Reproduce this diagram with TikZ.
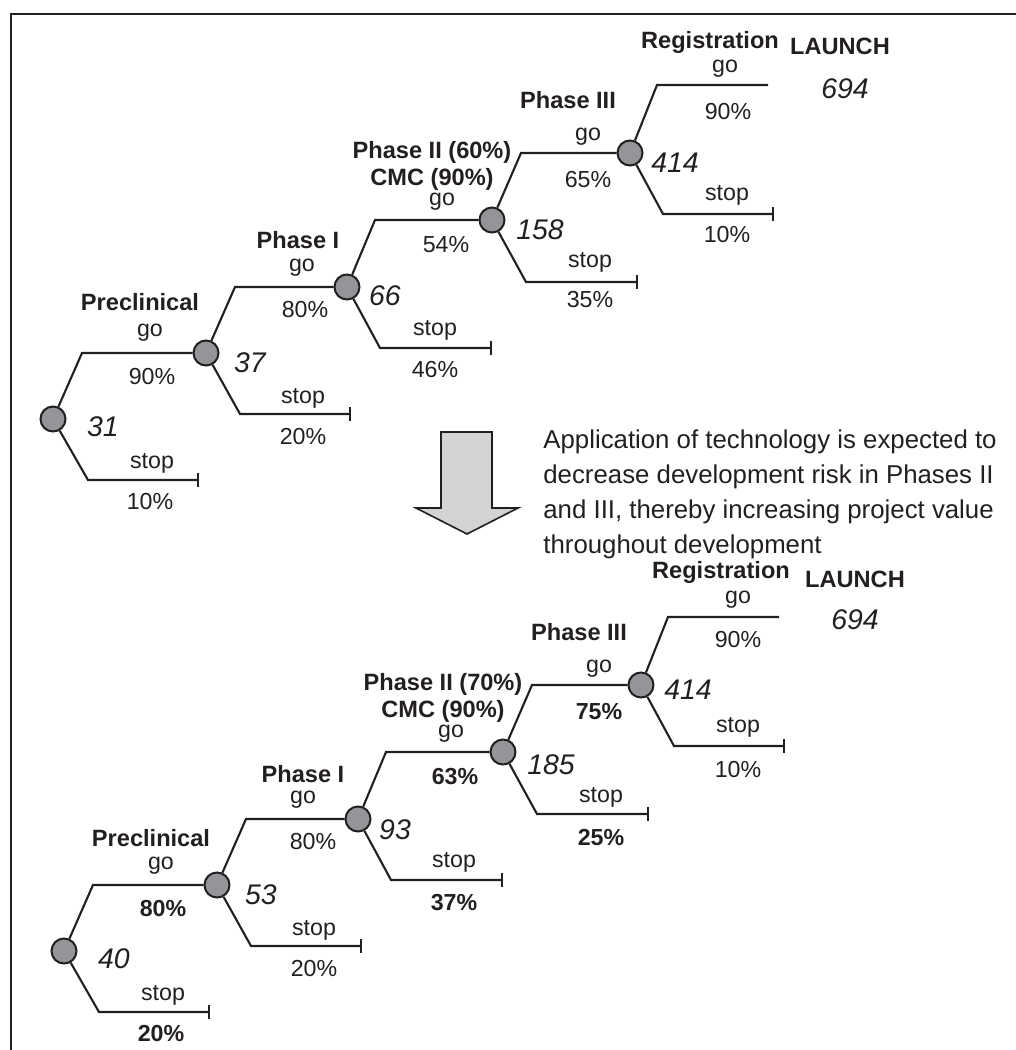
\documentclass[tikz,border=0pt]{standalone}
\usepackage{fontspec}
\setmainfont{Liberation Sans}
\usepackage{tikz}
\usetikzlibrary{arrows.meta}

\definecolor{ink}{RGB}{35,31,32}
\definecolor{dotgray}{RGB}{147,149,152}
\definecolor{arrowgray}{RGB}{209,211,212}

\begin{document}
\begin{tikzpicture}[x=0.5pt, y=-0.5pt,
	dec/.style={shape=circle, draw=ink, fill=dotgray, line width=1pt, minimum size=12.5pt, inner sep=0pt},
	branch/.style={draw=ink, line width=1.05pt},
	stopline/.style={branch, -{Bar[width=7pt]}},
	lab/.style={text=ink, inner sep=0pt, font=\fontsize{11.6}{13}\selectfont},
	blab/.style={text=ink, inner sep=0pt, font=\fontsize{11.6}{13}\selectfont\bfseries},
	phase/.style={text=ink, inner sep=0pt, align=center, font=\fontsize{11.8}{13.5}\selectfont\bfseries},
	val/.style={text=ink, inner sep=0pt, font=\fontsize{14.2}{16}\selectfont\itshape}]

	\useasboundingbox (0,0) rectangle (1016,1050);
	\draw[ink, line width=1.3pt] (11,1050) -- (11,14) -- (1016,14);

	% current project
	\node[dec] (p0) at (53,419)  {};
	\node[dec] (p1) at (206,353) {};
	\node[dec] (p2) at (347,287) {};
	\node[dec] (p3) at (492,220) {};
	\node[dec] (p4) at (630,153) {};

	\coordinate (p0g) at (82,353);   \coordinate (p0s) at (88,480);  \coordinate (p0e) at (199,480);
	\coordinate (p1g) at (235,287);  \coordinate (p1s) at (240,414); \coordinate (p1e) at (351,414);
	\coordinate (p2g) at (375,220);  \coordinate (p2s) at (380,348); \coordinate (p2e) at (492,348);
	\coordinate (p3g) at (521,153);  \coordinate (p3s) at (526,282); \coordinate (p3e) at (638,282);
	\coordinate (p4g) at (657,85);   \coordinate (p4s) at (663,214); \coordinate (p4e) at (774,214);
	\coordinate (p4l) at (768,85);

	\path[branch] (p0) -- (p0g) -- (p1);
	\path[branch] (p1) -- (p1g) -- (p2);
	\path[branch] (p2) -- (p2g) -- (p3);
	\path[branch] (p3) -- (p3g) -- (p4);
	\path[branch] (p4) -- (p4g) -- (p4l);
	\path[stopline] (p0) -- (p0s) -- (p0e);
	\path[stopline] (p1) -- (p1s) -- (p1e);
	\path[stopline] (p2) -- (p2s) -- (p2e);
	\path[stopline] (p3) -- (p3s) -- (p3e);
	\path[stopline] (p4) -- (p4s) -- (p4e);

	\node[phase] (ph0) at (140,302) {Preclinical};
	\node[lab]   (g0)  at (150,333) {go};
	\node[lab]   (gp0) at (152,377) {90\%};
	\node[lab]   (s0)  at (152,463) {stop};
	\node[lab]   (sp0) at (150,502) {10\%};
	\node[val]   (v0)  at (103,427) {31};

	\node[phase] (ph1) at (298,240) {Phase I};
	\node[lab]   (g1)  at (302,268) {go};
	\node[lab]   (gp1) at (305,310) {80\%};
	\node[lab]   (s1)  at (303,398) {stop};
	\node[lab]   (sp1) at (303,437) {20\%};
	\node[val]   (v1)  at (250,363) {37};

	\node[phase] (ph2) at (432,166) {Phase II (60\%)\\CMC (90\%)};
	\node[lab]   (g2)  at (442,202) {go};
	\node[lab]   (gp2) at (446,245) {54\%};
	\node[lab]   (s2)  at (435,330) {stop};
	\node[lab]   (sp2) at (435,370) {46\%};
	\node[val]   (v2)  at (385,296) {66};

	\node[phase] (ph3) at (568,100) {Phase III};
	\node[lab]   (g3)  at (588,137) {go};
	\node[lab]   (gp3) at (588,180) {65\%};
	\node[lab]   (s3)  at (590,262) {stop};
	\node[lab]   (sp3) at (590,300) {35\%};
	\node[val]   (v3)  at (540,230) {158};

	\node[phase] (ph4) at (710,42)  {Registration};
	\node[lab]   (g4)  at (725,69)  {go};
	\node[lab]   (gp4) at (728,112) {90\%};
	\node[lab]   (s4)  at (727,195) {stop};
	\node[lab]   (sp4) at (727,235) {10\%};
	\node[val]   (v4)  at (675,163) {414};

	\node[phase] (lau) at (840,46) {LAUNCH};
	\node[val]   (v5)  at (845,89) {694};

	% effect of the technology
	\draw[ink, fill=arrowgray, line width=0.8pt, line join=miter]
		(441,432) -- (492,432) -- (492,508) -- (518,508) -- (467,534)
		-- (416,508) -- (441,508) -- cycle;
	\node[text=ink, inner sep=0pt, anchor=north west, align=left,
		font=\fontsize{12.9}{17.5}\selectfont] (note) at (543,429)
		{Application of technology is expected to\\decrease development risk in Phases II\\and III, thereby increasing project value\\throughout development};

	% with the technology
	\begin{scope}[shift={(11,532)}]
	\node[dec] (q0) at (53,419)  {};
	\node[dec] (q1) at (206,353) {};
	\node[dec] (q2) at (347,287) {};
	\node[dec] (q3) at (492,220) {};
	\node[dec] (q4) at (630,153) {};

	\coordinate (q0g) at (82,353);   \coordinate (q0s) at (88,480);  \coordinate (q0e) at (199,480);
	\coordinate (q1g) at (235,287);  \coordinate (q1s) at (240,414); \coordinate (q1e) at (351,414);
	\coordinate (q2g) at (375,220);  \coordinate (q2s) at (380,348); \coordinate (q2e) at (492,348);
	\coordinate (q3g) at (521,153);  \coordinate (q3s) at (526,282); \coordinate (q3e) at (638,282);
	\coordinate (q4g) at (657,85);   \coordinate (q4s) at (663,214); \coordinate (q4e) at (774,214);
	\coordinate (q4l) at (768,85);

	\path[branch] (q0) -- (q0g) -- (q1);
	\path[branch] (q1) -- (q1g) -- (q2);
	\path[branch] (q2) -- (q2g) -- (q3);
	\path[branch] (q3) -- (q3g) -- (q4);
	\path[branch] (q4) -- (q4g) -- (q4l);
	\path[stopline] (q0) -- (q0s) -- (q0e);
	\path[stopline] (q1) -- (q1s) -- (q1e);
	\path[stopline] (q2) -- (q2s) -- (q2e);
	\path[stopline] (q3) -- (q3s) -- (q3e);
	\path[stopline] (q4) -- (q4s) -- (q4e);

	\node[phase] (qh0) at (140,306) {Preclinical};
	\node[lab]   (r0)  at (150,334) {go};
	\node[blab]  (rp0) at (152,377) {80\%};
	\node[lab]   (t0)  at (152,463) {stop};
	\node[blab]  (tp0) at (150,502) {20\%};
	\node[val]   (w0)  at (103,427) {40};

	\node[phase] (qh1) at (292,242) {Phase I};
	\node[lab]   (r1)  at (292,268) {go};
	\node[lab]   (rp1) at (302,310) {80\%};
	\node[lab]   (t1)  at (303,398) {stop};
	\node[lab]   (tp1) at (303,437) {20\%};
	\node[val]   (w1)  at (250,363) {53};

	\node[phase] (qh2) at (432,166) {Phase II (70\%)\\CMC (90\%)};
	\node[lab]   (r2)  at (440,202) {go};
	\node[blab]  (rp2) at (444,245) {63\%};
	\node[lab]   (t2)  at (443,330) {stop};
	\node[blab]  (tp2) at (443,371) {37\%};
	\node[val]   (w2)  at (384,298) {93};

	\node[phase] (qh3) at (568,100) {Phase III};
	\node[lab]   (r3)  at (588,137) {go};
	\node[blab]  (rp3) at (588,180) {75\%};
	\node[lab]   (t3)  at (590,265) {stop};
	\node[blab]  (tp3) at (590,306) {25\%};
	\node[val]   (w3)  at (540,233) {185};

	\node[phase] (qh4) at (710,40)  {Registration};
	\node[lab]   (r4)  at (727,68)  {go};
	\node[lab]   (rp4) at (727,108) {90\%};
	\node[lab]   (t4)  at (727,195) {stop};
	\node[lab]   (tp4) at (727,238) {10\%};
	\node[val]   (w4)  at (677,158) {414};

	\node[phase] (qlau) at (844,47) {LAUNCH};
	\node[val]   (w5)   at (844,88) {694};
	\end{scope}

\end{tikzpicture}
\end{document}
